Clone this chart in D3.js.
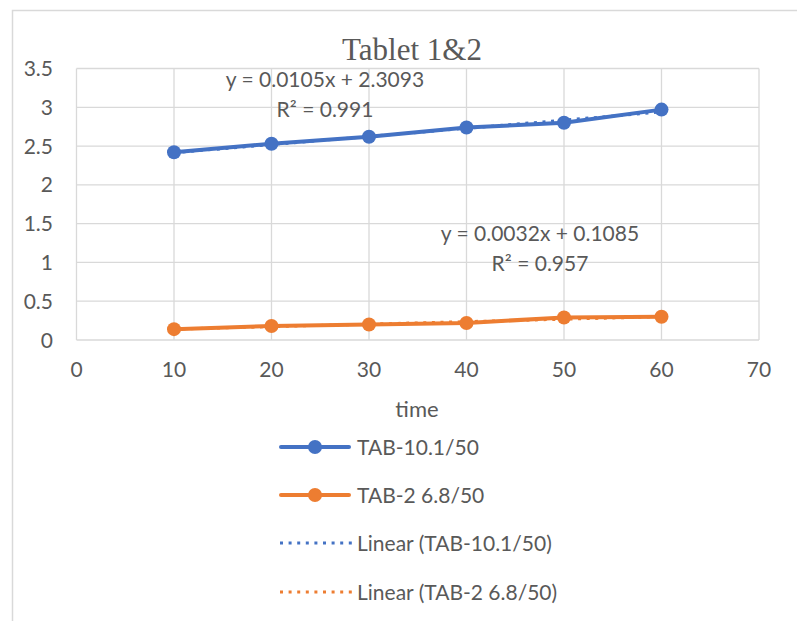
<!DOCTYPE html>
<html>
<head>
<meta charset="utf-8">
<script src="https://cdn.jsdelivr.net/npm/d3@7"></script>
<style>
  html, body { margin: 0; padding: 0; background: #fff; }
  svg { display: block; }
  text { font-family: Lato, "Open Sans", sans-serif; fill: #595959; }
</style>
</head>
<body>
<svg id="chart" width="797" height="621"></svg>
<script>
// Sampling times
const times = [10, 20, 30, 40, 50, 60];
// Measured series
const tab1Values = [2.42, 2.53, 2.62, 2.74, 2.80, 2.97];
const tab2Values = [0.14, 0.18, 0.20, 0.22, 0.29, 0.30];
// Fitted linear trends (slope, intercept, R²)
const tab1Fit = { slope: 0.0105, intercept: 2.3093, r2: "0.991" };
const tab2Fit = { slope: 0.0032, intercept: 0.1085, r2: "0.957" };
// Axis ticks
const xTicks = [0, 10, 20, 30, 40, 50, 60, 70];
const yTicks = [0, 0.5, 1, 1.5, 2, 2.5, 3, 3.5];
const seriesNames = ["TAB-10.1/50", "TAB-2 6.8/50"];
const trendNames = ["Linear (TAB-10.1/50)", "Linear (TAB-2 6.8/50)"];

const BLUE = "#4472C4", ORANGE = "#ED7D31", GRID = "#d9d9d9";

const svg = d3.select("#chart");

// Chart frame
svg.append("path")
  .attr("d", "M12.5,640 V10.5 H820")
  .attr("fill", "none").attr("stroke", GRID).attr("stroke-width", 1.5);

const x = d3.scaleLinear().domain([0, 70]).range([76.5, 759]);
const y = d3.scaleLinear().domain([0, 3.5]).range([340, 68.5]);

// Gridlines
const grid = svg.append("g");
grid.selectAll("line.v").data(xTicks).join("line")
  .attr("x1", d => x(d)).attr("x2", d => x(d))
  .attr("y1", y(0)).attr("y2", y(3.5))
  .attr("stroke", GRID).attr("stroke-width", 1.3);
grid.selectAll("line.h").data(yTicks).join("line")
  .attr("x1", x(0)).attr("x2", x(70))
  .attr("y1", d => y(d)).attr("y2", d => y(d))
  .attr("stroke", GRID).attr("stroke-width", 1.3);

// Y axis labels
svg.append("g").selectAll("text").data(yTicks).join("text")
  .attr("x", 53).attr("y", d => y(d)).attr("dy", "0.36em")
  .attr("text-anchor", "end").attr("font-size", 21)
  .text(d => d3.format("~g")(d));

// X axis labels
svg.append("g").selectAll("text").data(xTicks).join("text")
  .attr("x", d => x(d)).attr("y", 377)
  .attr("text-anchor", "middle").attr("font-size", 21)
  .text(d => d);

// Axis title
svg.append("text").attr("x", 417).attr("y", 417)
  .attr("text-anchor", "middle").attr("font-size", 22).text("time");

// Chart title
svg.append("text").attr("x", 412).attr("y", 60)
  .attr("text-anchor", "middle")
  .style("font-family", "'Liberation Serif', 'Times New Roman', serif")
  .attr("font-size", 31).text("Tablet 1&2");

// Trendlines
const trendDash = "3 5.6";
[[tab1Fit, BLUE], [tab2Fit, ORANGE]].forEach(([fit, color]) => {
  const x0 = d3.min(times), x1 = d3.max(times);
  svg.append("line")
    .attr("x1", x(x0)).attr("y1", y(fit.slope * x0 + fit.intercept))
    .attr("x2", x(x1)).attr("y2", y(fit.slope * x1 + fit.intercept))
    .attr("stroke", color).attr("stroke-width", 3)
    .attr("stroke-dasharray", trendDash);
});

// Data series
const line = d3.line().x(d => x(d[0])).y(d => y(d[1]));
[[tab1Values, BLUE], [tab2Values, ORANGE]].forEach(([vals, color]) => {
  const pts = times.map((t, i) => [t, vals[i]]);
  svg.append("path").datum(pts).attr("d", line)
    .attr("fill", "none").attr("stroke", color).attr("stroke-width", 4)
    .attr("stroke-linejoin", "round").attr("stroke-linecap", "round");
  svg.append("g").selectAll("circle").data(pts).join("circle")
    .attr("cx", d => x(d[0])).attr("cy", d => y(d[1])).attr("r", 7)
    .attr("fill", color);
});

// Trend equations
function equation(fit, cx, cy) {
  const g = svg.append("g").attr("font-size", 21).attr("text-anchor", "middle");
  g.append("text").attr("x", cx).attr("y", cy).attr("dy", "0.36em")
    .text(`y = ${fit.slope}x + ${fit.intercept}`);
  g.append("text").attr("x", cx).attr("y", cy + 30).attr("dy", "0.36em")
    .text(`R² = ${fit.r2}`);
}
equation(tab1Fit, 325, 79);
equation(tab2Fit, 540, 233);

// Legend
const legendRows = [
  { name: seriesNames[0], color: BLUE, trend: false },
  { name: seriesNames[1], color: ORANGE, trend: false },
  { name: trendNames[0], color: BLUE, trend: true },
  { name: trendNames[1], color: ORANGE, trend: true }
];
const rowY = [447, 495, 543, 592];
const lg = svg.append("g");
legendRows.forEach((r, i) => {
  const g = lg.append("g").attr("transform", `translate(0,${rowY[i]})`);
  if (r.trend) {
    g.append("line").attr("x1", 280).attr("x2", 352).attr("y1", 0).attr("y2", 0)
      .attr("stroke", r.color).attr("stroke-width", 3).attr("stroke-dasharray", "3 5.6");
  } else {
    g.append("line").attr("x1", 281).attr("x2", 349).attr("y1", 0).attr("y2", 0)
      .attr("stroke", r.color).attr("stroke-width", 4).attr("stroke-linecap", "round");
    g.append("circle").attr("cx", 315).attr("cy", 0).attr("r", 7).attr("fill", r.color);
  }
  g.append("text").attr("x", 357).attr("y", 0).attr("dy", "0.36em")
    .attr("font-size", 21).text(r.name);
});
</script>
</body>
</html>
